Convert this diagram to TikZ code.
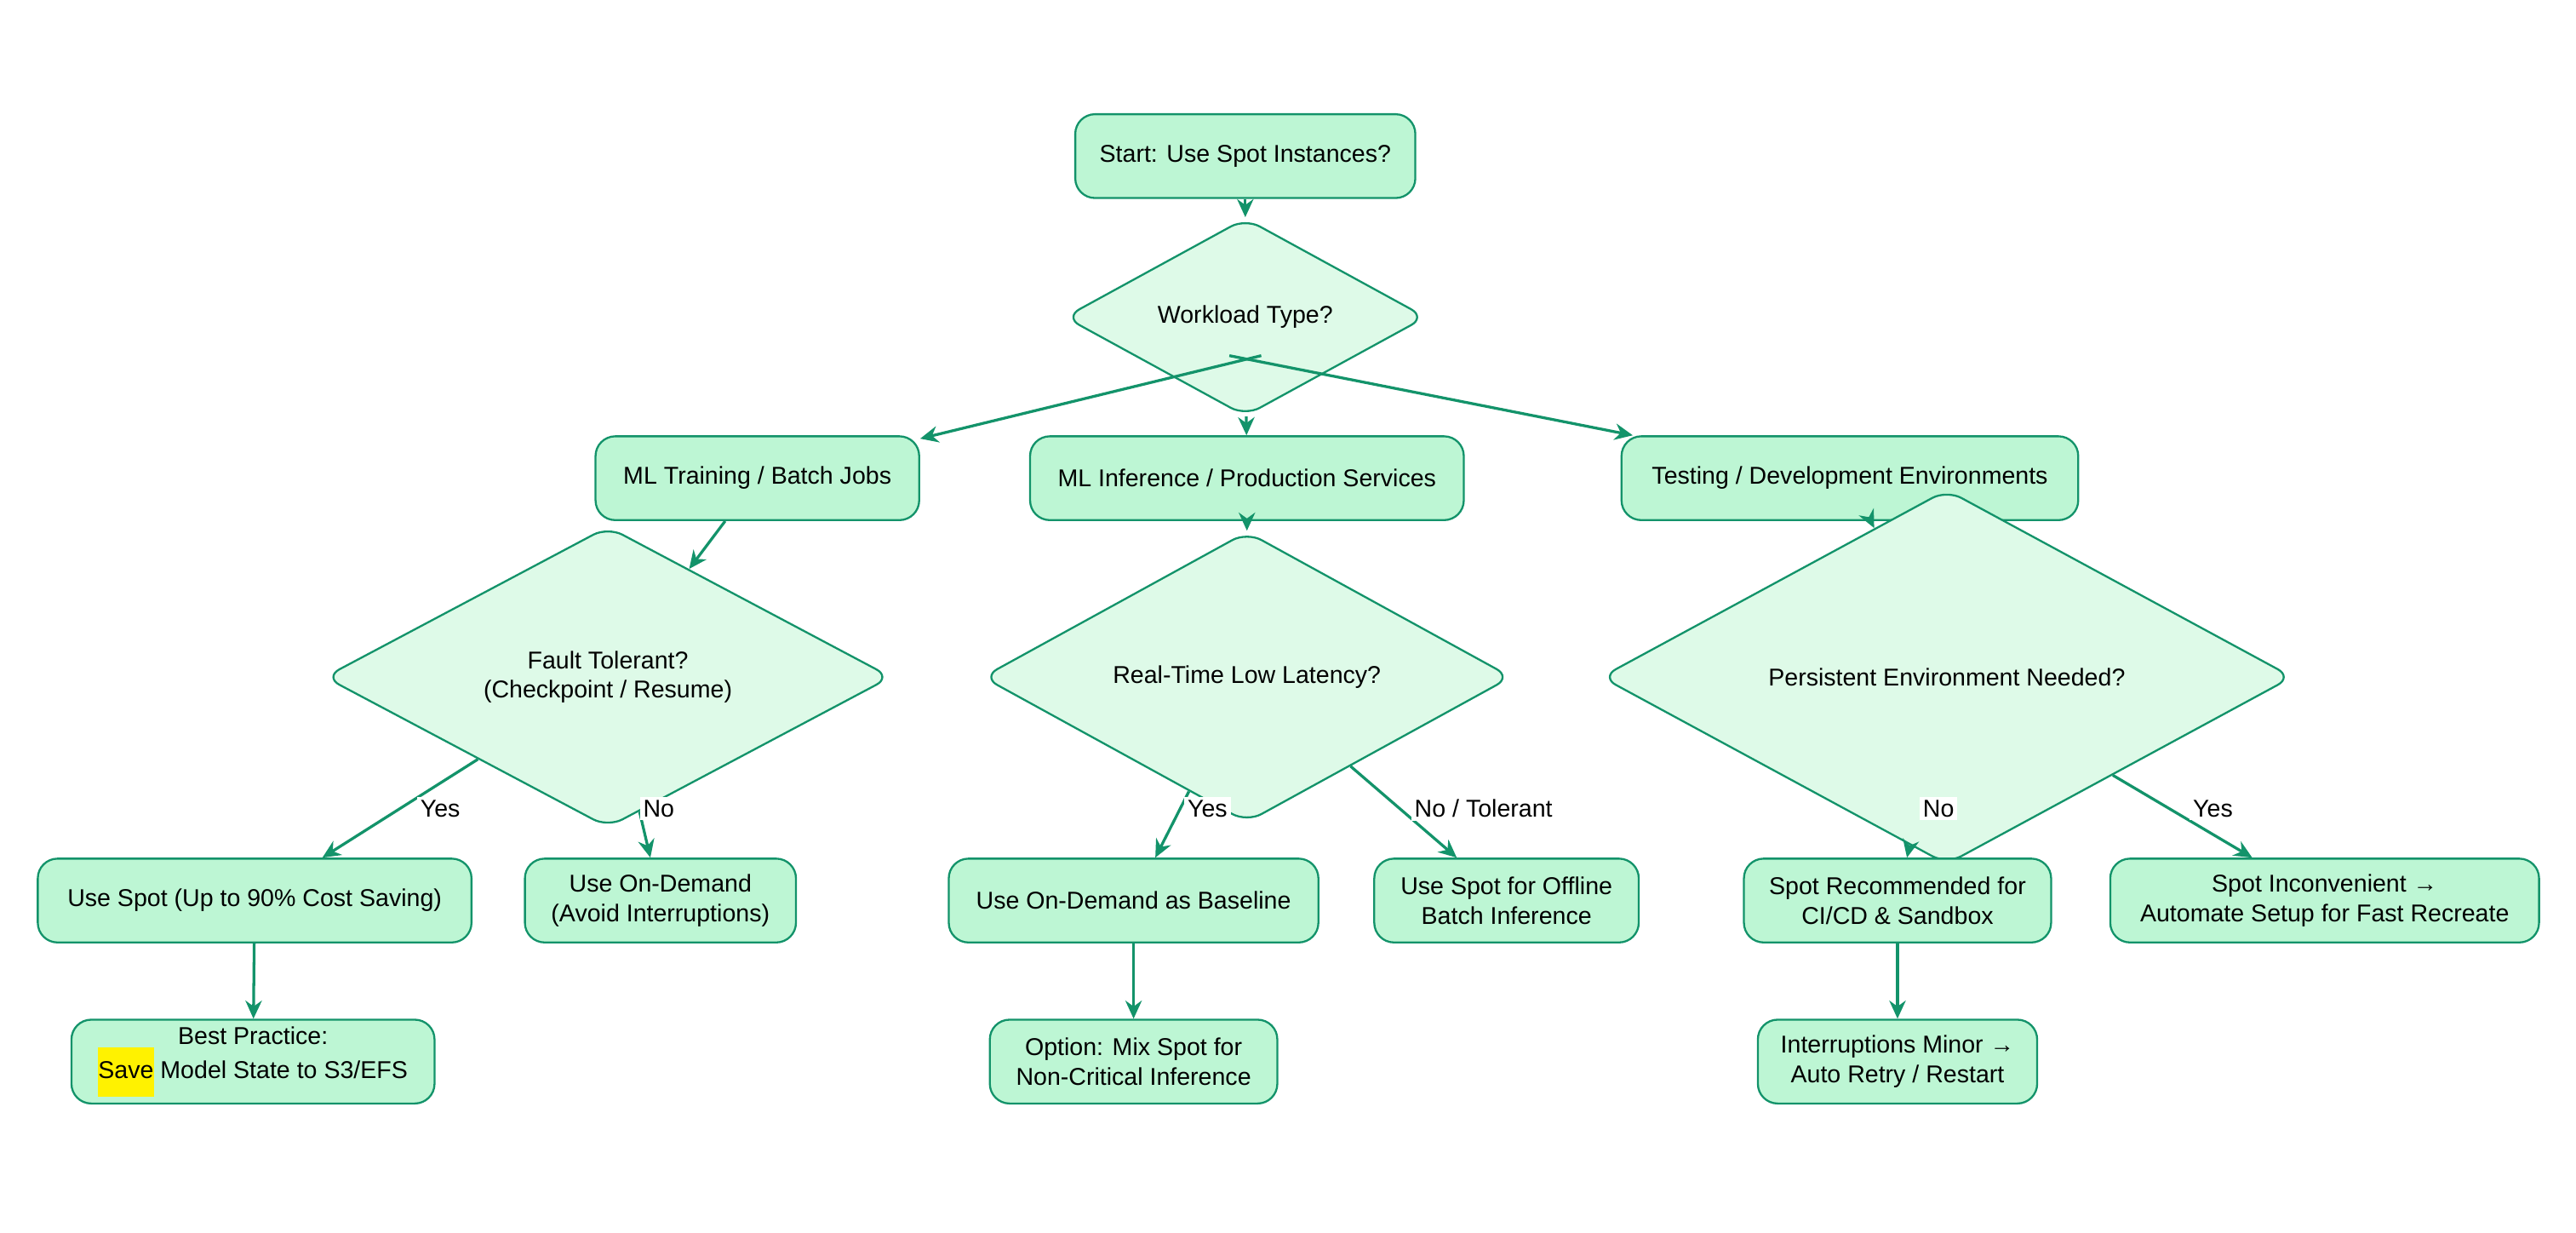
\documentclass[tikz,border=0pt]{standalone}
\usepackage{fontspec}
\setmainfont{Liberation Sans}
\usetikzlibrary{shapes.geometric,arrows.meta}
\definecolor{bfill}{HTML}{BDF6D4}
\definecolor{dfill}{HTML}{DEFAE8}
\definecolor{edge}{HTML}{13936A}
\definecolor{hl}{HTML}{FFF200}
\begin{document}
\begin{tikzpicture}[x=0.5pt,y=-0.5pt,
  every node/.style={font=\fontsize{7.4}{9}\selectfont},
  box/.style={draw=edge,fill=bfill,line width=0.6pt,rounded corners=6pt,align=center,minimum height=25.5pt,inner sep=0pt},
  dia/.style={draw=edge,fill=dfill,line width=0.6pt,diamond,rounded corners=5pt,align=center,inner sep=0pt},
  arr/.style={draw=edge,line width=0.85pt,-{Stealth[length=5.5pt,width=5pt]}},
  lab/.style={fill=white,inner sep=1pt}]
\useasboundingbox (0,0) rectangle (1568,750);
\node[box,minimum width=103.5pt] (start) at (758,95) {Start: Use Spot Instances?};
\node[dia,minimum width=110pt,minimum height=23pt] (wl) at (758,193) {Workload Type?};
\node[box,minimum width=98.5pt] (mlt) at (461,291) {ML Training / Batch Jobs};
\node[box,minimum width=132pt] (mli) at (759,291) {ML Inference / Production Services};
\node[box,minimum width=139pt] (test) at (1126,291) {Testing / Development Environments};
\node[dia,minimum width=172.5pt,minimum height=47.5pt] (ft) at (370,412) {Fault Tolerant?\\(Checkpoint / Resume)};
\node[dia,minimum width=161pt,minimum height=24pt] (rt) at (759,412) {Real-Time Low Latency?};
\node[dia,minimum width=210.5pt,minimum height=24pt] (pe) at (1185,412) {Persistent Environment Needed?};
\node[box,minimum width=132pt] (us) at (155,548) {Use Spot (Up to 90\% Cost Saving)};
\node[box,minimum width=82.5pt] (uod) at (402,548) {Use On-Demand\\(Avoid Interruptions)};
\node[box,minimum width=112.5pt] (odb) at (690,548) {Use On-Demand as Baseline};
\node[box,minimum width=80.5pt] (sof) at (917,548) {Use Spot for Offline\\Batch Inference};
\node[box,minimum width=93.5pt] (sr) at (1155,548) {Spot Recommended for\\CI/CD \& Sandbox};
\node[box,minimum width=130.5pt] (si) at (1415,548) {Spot Inconvenient →\\Automate Setup for Fast Recreate};
\node[box,minimum width=110.5pt] (bp) at (154,646) {Best Practice:\\\colorbox{hl}{\hspace{-3pt}\strut Save\hspace{-3pt}} Model State to S3/EFS};
\node[box,minimum width=87.5pt] (om) at (690,646) {Option: Mix Spot for\\Non-Critical Inference};
\node[box,minimum width=85pt] (im) at (1155,646) {Interruptions Minor →\\Auto Retry / Restart};
\draw[arr] (start) -- (wl);
\draw[arr] (wl.south west) ++(65,-7) coordinate (a1) (a1) -- (mlt);
\draw[arr] (wl) -- (mli);
\draw[arr] (wl.south east) ++(-65,-7) coordinate (a2) (a2) -- (test);
\draw[arr] (mlt) -- (ft);
\draw[arr] (mli) -- (rt);
\draw[arr] (test) -- (pe);
\draw[arr] (ft) -- (us);
\draw[arr] (ft) -- (uod);
\draw[arr] (rt) -- (odb);
\draw[arr] (rt) -- (sof);
\draw[arr] (pe) -- (sr);
\draw[arr] (pe) -- (si);
\draw[arr] (us) -- (bp);
\draw[arr] (odb) -- (om);
\draw[arr] (sr) -- (im);
\node[lab] (l1) at (268,492) {Yes};
\node[lab] (l2) at (401,492) {No};
\node[lab] (l3) at (735,492) {Yes};
\node[lab] (l4) at (903,492) {No / Tolerant};
\node[lab] (l5) at (1180,492) {No};
\node[lab] (l6) at (1347,492) {Yes};
\end{tikzpicture}
\end{document}
